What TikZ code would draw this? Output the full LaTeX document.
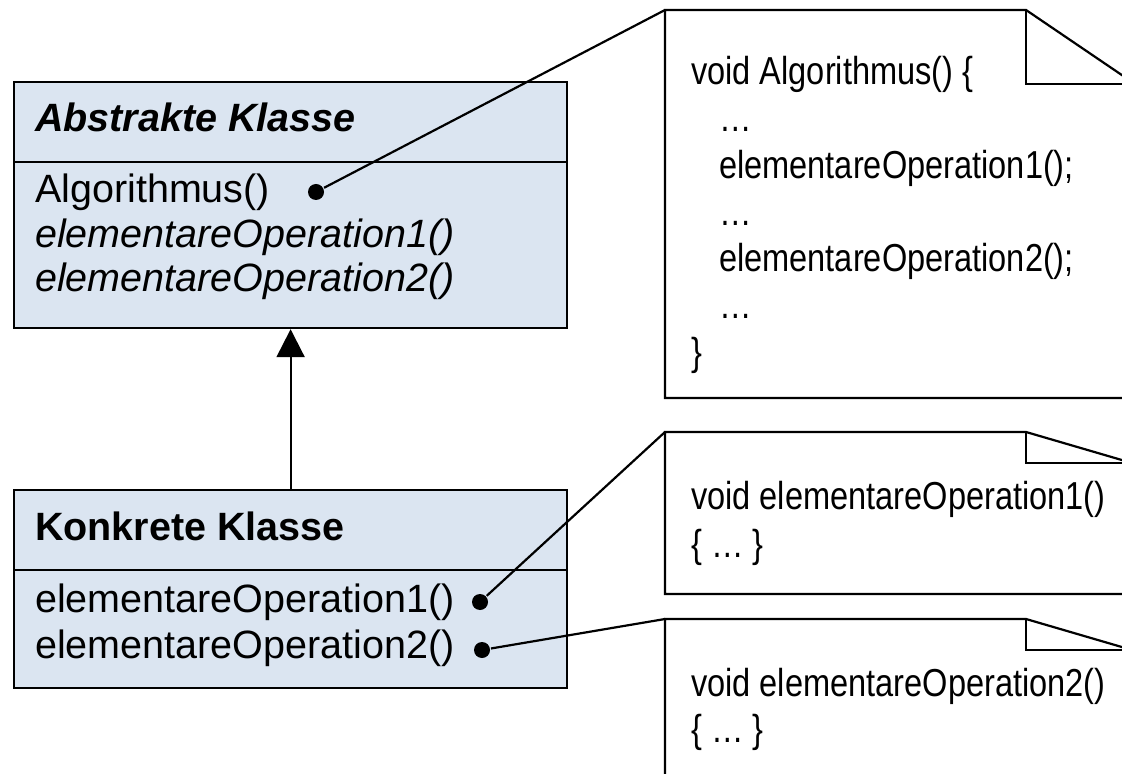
\documentclass[tikz,border=0pt]{standalone}
\usepackage{fontspec}
\setmainfont{Liberation Sans}
\newfontfamily\notefont[FakeStretch=0.835]{Liberation Sans}
\usetikzlibrary{arrows.meta}
\definecolor{klassblau}{HTML}{DBE5F1}
\begin{document}
\begin{tikzpicture}[x=0.5pt,y=-0.5pt,line width=1.1pt,
  klasse/.style={draw,fill=klassblau,anchor=north west,inner sep=0pt,minimum width=276.5pt},
  ktext/.style={anchor=base west,inner sep=0pt,font=\fontsize{19.75}{22}\selectfont},
  ntext/.style={anchor=base west,inner sep=0pt,font=\notefont\fontsize{19.5}{22}\selectfont},
  punkt/.style={circle,fill,inner sep=0pt,minimum size=8pt}]
\useasboundingbox (0,0) rectangle (1122,774);
\clip (0,0) rectangle (1122,774);
% abstract class
\node[klasse,minimum height=123pt] (abstrakt) at (13,81) {};
\draw (abstrakt.west |- 0,162) -- (abstrakt.east |- 0,162);
\node[ktext] (abstitel) at (34,132) {\bfseries\itshape Abstrakte Klasse};
\node[ktext] (algo) at (34,203) {Algorithmus()};
\node[ktext] (absop1) at (34,248) {\itshape elementareOperation1()};
\node[ktext] (absop2) at (34,292) {\itshape elementareOperation2()};
% concrete class
\node[klasse,minimum height=99pt] (konkret) at (13,489) {};
\draw (konkret.west |- 0,570) -- (konkret.east |- 0,570);
\node[ktext] (kontitel) at (34,540) {\bfseries Konkrete Klasse};
\node[ktext] (konop1) at (34,612) {elementareOperation1()};
\node[ktext] (konop2) at (34,658) {elementareOperation2()};
% inheritance
\draw[-{Triangle[length=14pt,width=14pt]}] (konkret.north) -- (abstrakt.south);
% notes
\draw[fill=white] (665,398) -- (665,10) -- (1026,10) -- (1135,84) -- (1135,398) -- cycle;
\draw (1026,10) -- (1026,84) -- (1135,84);
\draw[fill=white] (665,594) -- (665,432) -- (1026,432) -- (1132,463) -- (1132,594) -- cycle;
\draw (1026,432) -- (1026,463) -- (1132,463);
\draw[fill=white] (665,800) -- (665,619) -- (1026,619) -- (1132,650) -- (1132,800) -- cycle;
\draw (1026,619) -- (1026,650) -- (1132,650);
\coordinate (notiz1) at (665,10);
\coordinate (notiz2) at (665,432);
\coordinate (notiz3) at (665,619);
% note texts
\node[ntext] (n1a) at (690,85) {void Algorithmus() \{};
\node[ntext] (n1b) at (718,132) {…};
\node[ntext] (n1c) at (718,179) {elementareOperation1();};
\node[ntext] (n1d) at (718,226) {…};
\node[ntext] (n1e) at (718,272) {elementareOperation2();};
\node[ntext] (n1f) at (718,319) {…};
\node[ntext] (n1g) at (690,365) {\}};
\node[ntext] (n2a) at (690,509) {void elementareOperation1()};
\node[ntext] (n2b) at (690,557) {\{ … \}};
\node[ntext] (n3a) at (690,696) {void elementareOperation2()};
\node[ntext] (n3b) at (690,742) {\{ … \}};
% links
\node[punkt] (algpunkt) at (316,192) {};
\node[punkt] (op1punkt) at (480,602) {};
\node[punkt] (op2punkt) at (482,650) {};
\draw (algpunkt) -- (notiz1);
\draw (op1punkt) -- (notiz2);
\draw (op2punkt) -- (notiz3);
\end{tikzpicture}
\end{document}
